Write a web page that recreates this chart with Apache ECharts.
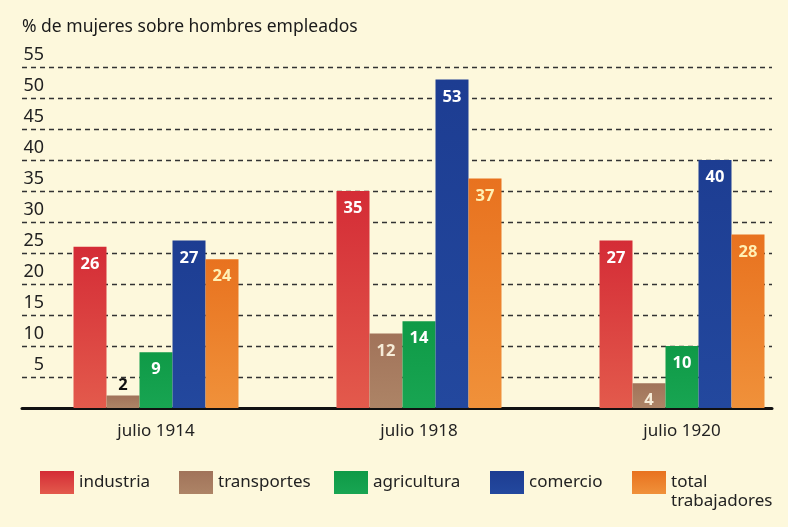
<!DOCTYPE html>
<html>
<head>
<meta charset="utf-8">
<script src="https://cdn.jsdelivr.net/npm/echarts@6/dist/echarts.min.js"></script>
<style>html,body{margin:0;padding:0;background:#fdf8dc;}#c{width:788px;height:527px;}</style>
</head>
<body>
<div id="c"></div>
<script>
const titleText = '% de mujeres sobre hombres empleados';
const categories = ['julio 1914', 'julio 1918', 'julio 1920'];
const seriesNames = ['industria', 'transportes', 'agricultura', 'comercio', 'total trabajadores'];
const legendLabels = ['industria', 'transportes', 'agricultura', 'comercio', 'total'];
const legendSecondLine = 'trabajadores';
const industria = [26, 35, 27];
const transportes = [2, 12, 4];
const agricultura = [9, 14, 10];
const comercio = [27, 53, 40];
const totalTrabajadores = [24, 37, 28];
const yTicks = [0, 5, 10, 15, 20, 25, 30, 35, 40, 45, 50, 55];

const values = [industria, transportes, agricultura, comercio, totalTrabajadores];
const colorsTop = ['#d42c36', '#a1735a', '#0f9a47', '#1d3d92', '#e8721f'];
const colorsBottom = ['#e35a4c', '#ad8466', '#18a552', '#23489e', '#f0913a'];
const labelColors = ['#ffffff', '#f6ecd8', '#ffffff', '#ffffff', '#fff0b4'];
const legendLeft = [35, 174, 329, 485, 627];
const FONT = 'Noto Sans';

const chart = echarts.init(document.getElementById('c'), null, {renderer: 'canvas'});

const series = values.map((arr, i) => ({
  name: seriesNames[i],
  type: 'bar',
  xAxisIndex: 1,
  yAxisIndex: 1,
  clip: false,
  barWidth: 33,
  barGap: '0%',
  itemStyle: {
    color: new echarts.graphic.LinearGradient(0, 0, 0, 1, [
      {offset: 0, color: colorsTop[i]},
      {offset: 1, color: colorsBottom[i]}
    ])
  },
  label: {
    show: true,
    position: 'insideTop',
    distance: 9,
    color: labelColors[i],
    fontFamily: FONT,
    fontSize: 16.5,
    fontWeight: 'bold'
  },
  data: arr.map(v => v < 3 ? {value: v, label: {position: 'top', color: '#111', distance: 2}} : v)
}));

const legends = seriesNames.map((n, i) => ({
  data: [n],
  left: legendLeft[i],
  top: 466,
  orient: 'horizontal',
  icon: 'rect',
  itemWidth: 34,
  itemHeight: 23,
  itemGap: 8,
  selectedMode: false,
  formatter: () => legendLabels[i],
  textStyle: {fontFamily: FONT, fontSize: 17, color: '#222'}
}));

chart.setOption({
  backgroundColor: '#fdf8dc',
  animation: false,
  title: {
    text: titleText,
    left: 17,
    top: 13,
    textStyle: {fontFamily: FONT, fontSize: 17.5, fontWeight: 'normal', color: '#1a1a1a'}
  },
  legend: legends,
  graphic: [{
    type: 'text',
    left: 671,
    top: 493,
    style: {text: legendSecondLine, fontFamily: FONT, fontSize: 17, fill: '#222'}
  }],
  grid: [
    {left: 22, right: 16, top: 67, bottom: 119},
    {left: 156, right: 106, top: 67, bottom: 119}
  ],
  xAxis: [
    {
      type: 'value', gridIndex: 0, min: 0, max: 1,
      axisLine: {show: true, onZero: false, lineStyle: {color: '#111', width: 3}},
      axisTick: {show: false}, axisLabel: {show: false}, splitLine: {show: false}
    },
    {
      type: 'category', gridIndex: 1, data: categories, boundaryGap: false,
      axisLine: {show: false}, axisTick: {show: false},
      axisLabel: {margin: 15, fontFamily: FONT, fontSize: 17, color: '#222'}
    }
  ],
  yAxis: [
    {
      type: 'value', gridIndex: 0, min: 0, max: 55, interval: 5,
      axisLine: {show: false}, axisTick: {show: false},
      axisLabel: {
        inside: true, margin: 22, align: 'right', verticalAlign: 'bottom',
        padding: [0, 0, 3, 0],
        fontFamily: FONT, fontSize: 18, color: '#222',
        formatter: v => (yTicks.indexOf(v) > 0 ? String(v) : '')
      },
      splitLine: {show: true, lineStyle: {type: [5, 4], color: '#333', width: 1.3}}
    },
    {
      type: 'value', gridIndex: 1, min: 0, max: 55, interval: 5, show: false,
      splitLine: {show: false}
    }
  ],
  series: series
});
</script>
</body>
</html>
